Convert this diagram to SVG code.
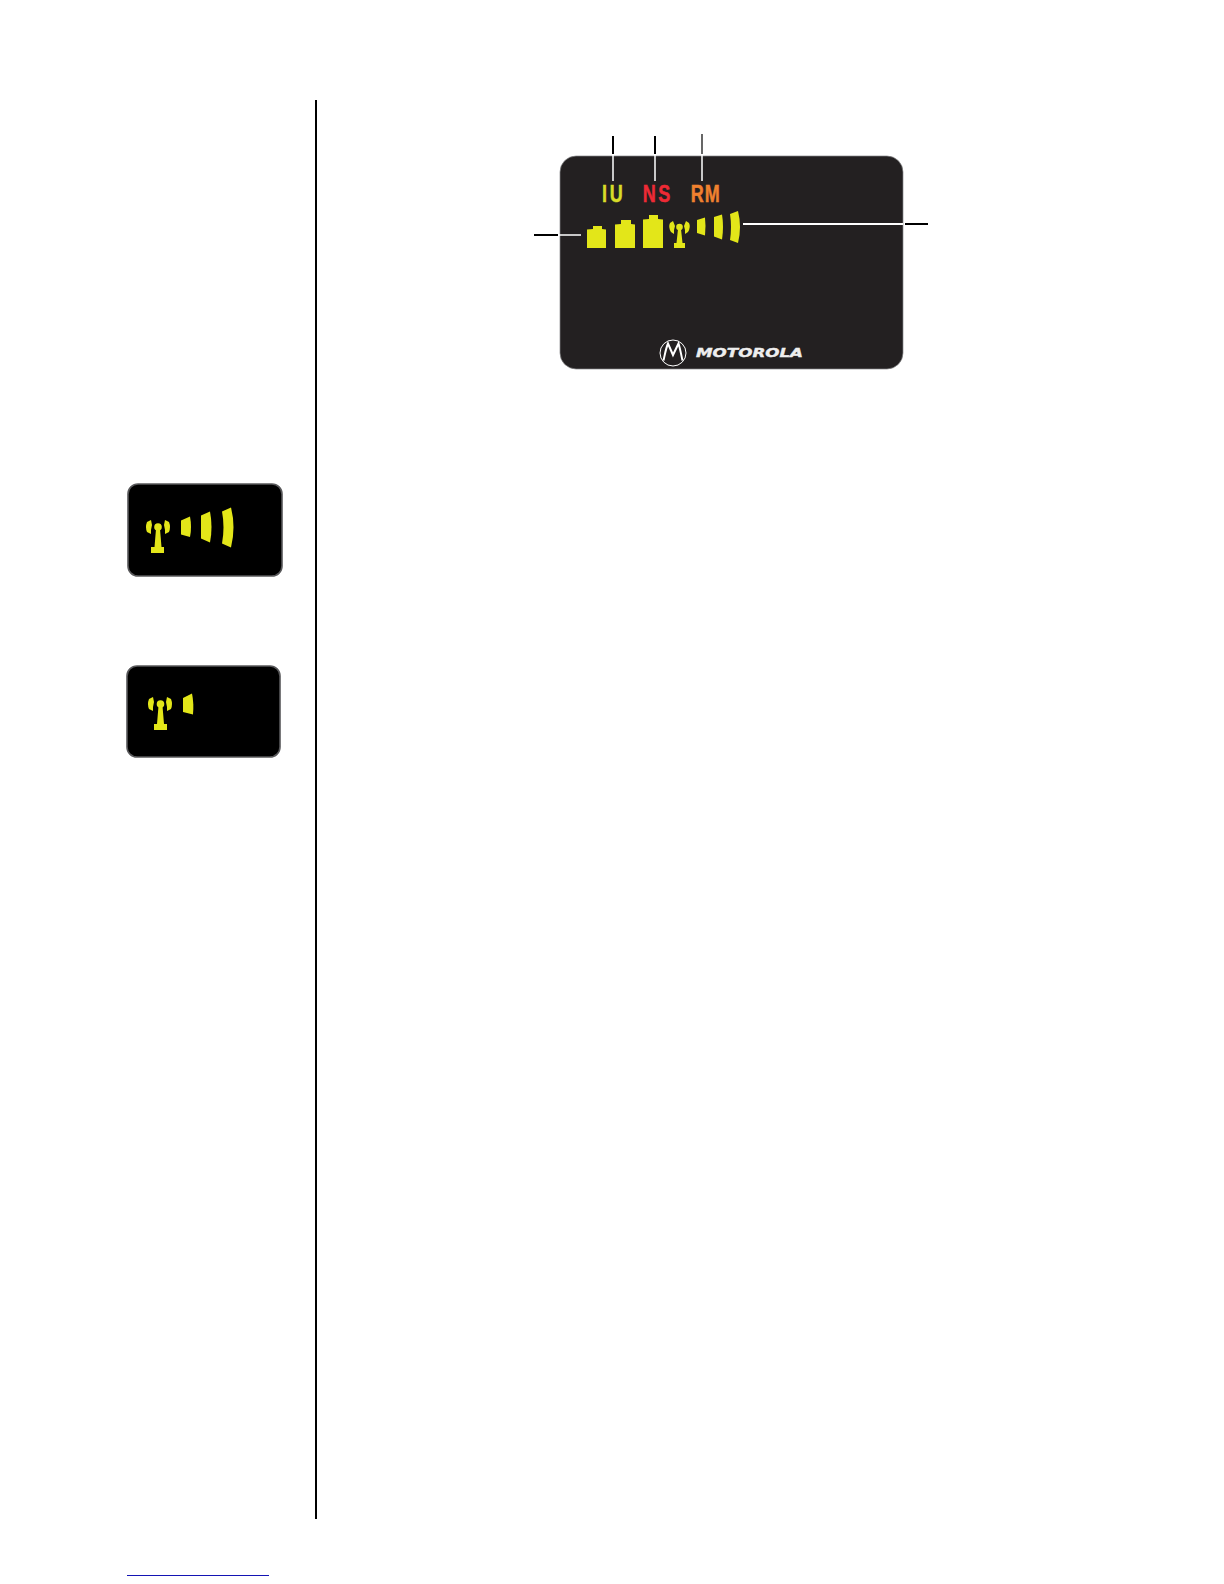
<svg xmlns="http://www.w3.org/2000/svg" width="1224" height="1584" viewBox="0 0 1224 1584">
<style>
.y{fill:#e3e619}
.edge{stroke:#88888a;stroke-width:.7}
.sm{fill:#000;stroke:#58585a;stroke-width:1.6}
.k{stroke:#000;fill:none}
.w{stroke:#fff;fill:none}
.lcd{font-family:"Liberation Sans",Arial,sans-serif;font-weight:700;font-size:24px;stroke-width:.5px}
</style>
<rect width="1224" height="1584" fill="#fff"/>
<g id="rule"><rect x="315" y="100" width="2" height="1419" fill="#000"/></g>
<g id="footer-link"><rect x="127" y="1575" width="142" height="1" fill="#1414b4"/></g>
<g id="display">
<rect x="560" y="156" width="343" height="213" rx="16" fill="#232021" class="edge"/>
<text class="lcd" transform="matrix(.75 0 0 1 0 202)" x="802.700 813" y="0" fill="#d8dc28" stroke="#d8dc28">IU</text>
<text class="lcd" transform="matrix(.75 0 0 1 0 202)" x="857 877.700" y="0" fill="#ee2a35" stroke="#ee2a35">NS</text>
<text class="lcd" transform="matrix(.75 0 0 1 0 202)" x="921 939.700" y="0" fill="#f0812f" stroke="#f0812f">RM</text>
<g id="battery-icons" class="y">
<path d="M587 248V229.500L593 229V226H602V229L606 229.500V248Z"/>
<path d="M615 248V224.500L621 224V220H631V224L635 224.500V248Z"/>
<path d="M643 248V219.500L649 219V215H658V219L663 219.500V248Z"/>
</g>
<g id="signal-icons" class="y">
<path d="M670 223L673 221L675 226L674 230L674 234L671 232Q668 227 670 223Z"/>
<path d="M689 223L686 221L684 226L685 230L685 234L688 232Q691 227 689 223Z"/>
<circle cx="679.500" cy="227" r="3.300"/>
<path d="M678 229H681L682.500 243H685V248H674V243H676.500Z"/>
<path d="M697 220L705 217.500Q706 226 705 235.500L697 233Z"/>
<path d="M714 217L722 214.500Q724 227 722 239.500L714 236.500Z"/>
<path d="M730 214L738 211Q742 227 738 243L730 240Q732 227 730 214Z"/>
</g>
<g id="motorola-logo">
<circle cx="673" cy="353" r="13" fill="none" stroke="#fff" stroke-width="1"/>
<path d="M663.500 360.500C665 354 666 348 668 343.500L673 355L678.500 343.500C680 348 681 354 682.500 360.500" fill="none" stroke="#fff" stroke-width="2"/>
<text x="696" y="357" font-family="'DejaVu Sans',sans-serif" font-weight="700" font-style="italic" font-size="12.500" textLength="107" lengthAdjust="spacingAndGlyphs" fill="#eeeeee" stroke="#eeeeee" stroke-width=".4">MOTOROLA</text>
</g>
</g>
<g id="connectors">
<path class="k" stroke-width="2" d="M613 136V154M655 136V154M534 235H558M905 224H928"/>
<path class="k" stroke-width="1.200" d="M702 134V154"/>
<path class="w" stroke-width="1.500" d="M613 154V181M655 154V181M702 154V181M559 235H581"/>
<path class="w" stroke-width="2" d="M743 224H903"/>
</g>
<g id="signal-full">
<rect x="128" y="484" width="154" height="92" rx="10" class="sm"/>
<g class="y">
<path d="M147 522L151 520L152 525L151 530L151 534L147 532Q145 527 147 522Z"/>
<path d="M169 522L165 520L164 525L165 530L165 534L169 532Q171 527 169 522Z"/>
<circle cx="158" cy="527" r="3.800"/>
<path d="M156 529H160L161.500 547H164V553H151V547H154.500Z"/>
<path d="M181 520.500L190 516.500Q192 527 190 537L181 534.500Z"/>
<path d="M201 515.500L210 511.500Q213 527 210 542.500L201 538.500Z"/>
<path d="M222 511.500L231 507.500Q236 527 231 547.500L222 543.500Q225 527 222 511.500Z"/>
</g>
</g>
<g id="signal-low">
<rect x="127" y="666" width="153" height="91" rx="10" class="sm"/>
<g class="y">
<path d="M149 699L153 697L154 702L153 707L153 711L149 709Q147 704 149 699Z"/>
<path d="M171 699L167 697L166 702L167 707L167 711L171 709Q173 704 171 699Z"/>
<circle cx="160.500" cy="704" r="3.800"/>
<path d="M158.500 706H162.500L164 724H167V730H154V724H157Z"/>
<path d="M183 698L192 693.500Q194 703 193 714.500L183 712Z"/>
</g>
</g>
</svg>
